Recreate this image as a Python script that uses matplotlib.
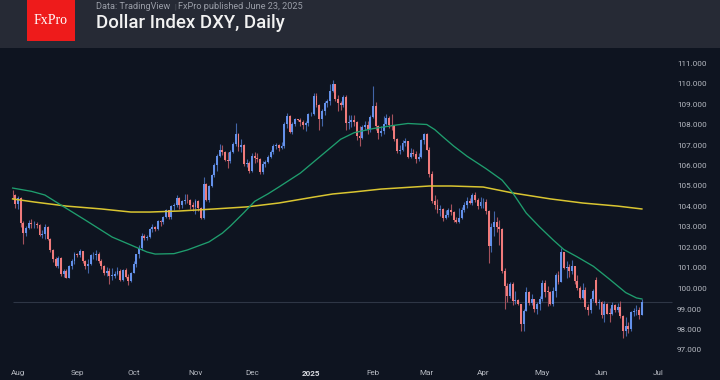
import numpy as np
import pandas as pd
import matplotlib
matplotlib.use("Agg")
import matplotlib.pyplot as plt
from matplotlib.patches import Rectangle

# ---------------- data ----------------
dates = pd.bdate_range("2024-07-30", "2025-06-23")

opens = [
    104.57, 104.55,
    104.10, 104.41, 103.21, 102.70, 102.95, 103.19, 103.14, 103.15, 103.12, 102.62, 102.64, 103.00, 102.40, 101.86, 101.45, 101.10, 101.50, 100.72, 100.86, 100.53, 101.09, 101.35,
    101.70, 101.63, 101.82, 101.36, 101.09, 101.18, 101.63, 101.64, 101.68, 101.36, 101.11, 100.74, 100.87, 100.61, 100.62, 100.72, 100.87, 100.42, 100.90, 100.56, 100.38,
    100.78, 101.20, 101.68, 101.99, 102.54, 102.47, 102.53, 102.90, 102.99, 102.89, 103.29, 103.25, 103.49, 103.83, 103.49, 104.02, 104.08, 104.41, 104.05, 104.26, 104.32, 104.31, 104.05,
    103.99, 104.28, 103.91, 103.42, 105.08, 104.34, 104.99, 105.54, 106.02, 106.48, 106.78, 106.67, 106.27, 106.22, 106.68, 107.06, 107.55, 106.89, 107.01, 106.08, 106.13,
    105.74, 106.48, 106.35, 106.33, 105.70, 106.06, 106.16, 106.41, 106.68, 106.97, 107.00, 106.85, 106.95, 108.03, 108.40, 107.62, 108.04, 108.26, 108.20, 108.13, 107.98, 108.06,
    108.49, 108.50, 109.39, 108.95, 108.26, 108.68, 109.05, 109.16, 109.65, 109.96, 109.25, 109.06, 108.96, 109.35, 108.06, 108.11, 108.24, 108.12, 107.45, 107.35, 107.86, 107.97, 107.80,
    108.37, 108.92, 107.91, 107.60, 107.69, 108.04, 108.32, 107.96, 107.93, 107.29, 106.71, 106.77, 107.09, 107.19, 106.41, 106.61, 106.56, 106.30, 106.41, 107.24,
    107.56, 106.76, 105.58, 104.29, 104.08, 103.84, 103.90, 103.46, 103.59, 103.83, 103.72, 103.35, 103.26, 103.43, 103.85, 104.09, 104.26, 104.19, 104.56, 104.31, 104.04,
    104.21, 104.24, 103.80, 102.07, 103.02, 103.26, 102.98, 102.89, 100.86, 100.10, 99.63, 100.22, 99.38, 99.42, 99.23, 98.28, 98.92, 99.84, 99.29, 99.47, 98.99, 99.24,
    99.47, 100.25, 99.84, 99.83, 99.24, 99.88, 100.64, 100.34, 101.79, 101.00, 101.04, 100.84, 101.09, 100.37, 100.03, 99.54, 99.93, 99.10, 98.94, 99.49, 100.40, 99.27,
    99.33, 98.71, 99.24, 98.78, 98.76, 99.19, 98.96, 99.09, 98.64, 97.92, 98.18, 98.02, 98.86, 98.90, 98.93, 98.71,
]
highs = [
    104.80, 104.60,
    104.50, 104.45, 103.30, 103.05, 103.35, 103.40, 103.30, 103.25, 103.15, 102.85, 103.15, 103.05, 102.45, 101.95, 101.55, 101.60, 101.55, 100.95, 100.95, 101.15, 101.45, 101.80,
    101.75, 101.95, 101.85, 101.40, 101.45, 101.70, 101.80, 101.90, 101.80, 101.45, 101.15, 101.05, 101.00, 101.00, 100.85, 101.05, 100.95, 100.95, 101.00, 100.70, 100.80,
    101.35, 101.70, 102.10, 102.70, 102.65, 102.60, 102.95, 103.15, 103.05, 103.35, 103.35, 103.55, 103.87, 103.85, 104.05, 104.15, 104.55, 104.45, 104.30, 104.60, 104.63, 104.35, 104.20,
    104.35, 104.30, 104.00, 105.44, 105.15, 105.05, 105.60, 106.10, 106.55, 107.07, 107.00, 106.70, 106.65, 106.75, 107.15, 108.07, 107.60, 107.30, 107.05, 106.30, 106.20,
    106.60, 106.65, 106.60, 106.35, 106.20, 106.25, 106.50, 106.75, 107.05, 107.10, 107.05, 107.15, 108.10, 108.54, 108.45, 108.10, 108.30, 108.28, 108.30, 108.20, 108.15, 108.55,
    108.60, 109.55, 109.53, 109.00, 108.75, 109.15, 109.25, 109.97, 110.17, 110.00, 109.45, 109.15, 109.45, 109.45, 108.45, 108.45, 108.45, 108.15, 107.95, 108.00, 108.15, 108.15, 108.45,
    109.88, 109.10, 108.00, 107.95, 108.40, 108.50, 108.40, 108.50, 108.00, 107.35, 107.00, 107.25, 107.35, 107.20, 106.85, 106.80, 106.70, 106.60, 107.30, 107.60,
    107.58, 106.90, 105.75, 104.55, 104.35, 104.05, 103.95, 103.85, 103.95, 104.10, 103.80, 103.50, 103.95, 104.00, 104.20, 104.45, 104.40, 104.68, 104.70, 104.40, 104.45,
    104.40, 104.35, 103.85, 103.20, 103.80, 103.50, 103.35, 102.95, 101.00, 100.25, 100.30, 100.30, 99.90, 99.50, 99.25, 99.00, 100.05, 99.90, 99.75, 99.50, 99.35, 99.65,
    100.40, 100.40, 100.10, 99.90, 100.05, 100.75, 100.85, 101.98, 101.80, 101.35, 101.20, 101.40, 101.10, 100.65, 100.10, 100.25, 100.05, 99.25, 99.55, 100.00, 100.55, 99.50,
    99.40, 99.40, 99.30, 99.05, 99.35, 99.25, 99.30, 99.40, 98.70, 98.60, 98.35, 98.90, 99.05, 99.20, 99.10, 99.50,
]
lows = [
    104.35, 103.95,
    103.90, 103.00, 102.16, 102.55, 102.90, 102.95, 102.95, 102.95, 102.55, 102.45, 102.40, 102.35, 101.80, 101.30, 101.05, 101.00, 100.60, 100.55, 100.50, 100.50, 100.95, 101.20,
    101.55, 101.55, 101.25, 100.95, 100.75, 101.15, 101.45, 101.40, 101.25, 100.95, 100.65, 100.60, 100.20, 100.40, 100.50, 100.65, 100.35, 100.35, 100.50, 100.16, 100.30,
    100.75, 101.05, 101.50, 101.90, 102.35, 102.35, 102.45, 102.75, 102.80, 102.85, 103.05, 103.15, 103.45, 103.40, 103.40, 103.85, 104.00, 103.90, 103.95, 104.10, 104.15, 103.90, 103.80,
    103.65, 103.80, 103.37, 103.40, 104.28, 104.20, 104.95, 105.45, 105.75, 106.40, 106.50, 106.20, 105.90, 106.10, 106.60, 106.95, 106.70, 106.65, 106.00, 105.95, 105.64,
    105.70, 106.10, 106.15, 105.60, 105.60, 105.95, 106.10, 106.35, 106.55, 106.80, 106.70, 106.80, 106.85, 107.85, 107.60, 107.55, 107.95, 108.15, 107.95, 107.80, 107.70, 107.95,
    108.40, 108.45, 108.85, 107.75, 107.95, 108.45, 108.85, 108.95, 109.60, 109.15, 108.65, 108.70, 108.85, 107.75, 107.80, 107.90, 107.95, 107.25, 106.95, 107.30, 107.75, 107.55, 107.65,
    108.30, 107.75, 107.30, 107.45, 107.55, 108.00, 107.85, 107.75, 107.20, 106.60, 106.55, 106.70, 106.95, 106.35, 106.35, 106.45, 106.10, 106.20, 106.35, 107.05,
    106.75, 105.45, 104.15, 103.90, 103.70, 103.55, 103.30, 103.40, 103.50, 103.60, 103.25, 103.20, 103.20, 103.40, 103.75, 103.95, 104.10, 104.05, 104.20, 103.90, 103.95,
    103.95, 103.65, 101.25, 101.80, 102.55, 102.75, 102.10, 100.75, 99.01, 99.35, 99.55, 99.20, 99.25, 99.20, 97.92, 97.95, 98.90, 99.20, 99.20, 98.85, 98.75, 98.95,
    99.40, 99.60, 99.15, 99.20, 99.15, 99.60, 100.20, 100.30, 100.95, 100.50, 100.55, 100.70, 100.20, 99.95, 99.50, 99.50, 99.00, 98.70, 98.80, 99.40, 99.20, 99.00,
    98.58, 98.35, 98.75, 98.35, 98.70, 98.85, 98.85, 98.55, 97.60, 97.70, 97.85, 97.95, 98.65, 98.70, 98.50, 98.70,
]
closes = [
    104.55, 104.10,
    104.41, 103.21, 102.70, 102.95, 103.19, 103.14, 103.15, 103.12, 102.62, 102.64, 103.00, 102.40, 101.86, 101.45, 101.10, 101.50, 100.72, 100.86, 100.53, 101.09, 101.35, 101.70,
    101.63, 101.82, 101.36, 101.09, 101.18, 101.63, 101.64, 101.68, 101.36, 101.11, 100.74, 100.87, 100.61, 100.62, 100.72, 100.87, 100.42, 100.90, 100.56, 100.38, 100.78,
    101.20, 101.68, 101.99, 102.54, 102.47, 102.53, 102.90, 102.99, 102.89, 103.29, 103.25, 103.49, 103.83, 103.49, 104.02, 104.08, 104.41, 104.05, 104.26, 104.32, 104.31, 104.05, 103.99,
    104.28, 103.91, 103.42, 105.08, 104.34, 104.99, 105.54, 106.02, 106.48, 106.78, 106.67, 106.27, 106.22, 106.68, 107.06, 107.55, 106.89, 107.01, 106.08, 106.13, 105.74,
    106.48, 106.35, 106.33, 105.70, 106.06, 106.16, 106.41, 106.68, 106.97, 107.00, 106.85, 106.95, 108.03, 108.40, 107.62, 108.04, 108.26, 108.20, 108.13, 107.98, 108.06, 108.49,
    108.50, 109.39, 108.95, 108.26, 108.68, 109.05, 109.16, 109.65, 109.96, 109.25, 109.06, 108.96, 109.35, 108.06, 108.11, 108.24, 108.12, 107.45, 107.35, 107.86, 107.97, 107.80, 108.37,
    108.92, 107.91, 107.60, 107.69, 108.04, 108.32, 107.96, 107.93, 107.29, 106.71, 106.77, 107.09, 107.19, 106.41, 106.61, 106.56, 106.30, 106.41, 107.24, 107.56,
    106.76, 105.58, 104.29, 104.08, 103.84, 103.90, 103.46, 103.59, 103.83, 103.72, 103.35, 103.26, 103.43, 103.85, 104.09, 104.26, 104.19, 104.56, 104.31, 104.04, 104.21,
    104.24, 103.80, 102.07, 103.02, 103.26, 102.98, 102.89, 100.86, 100.10, 99.63, 100.22, 99.38, 99.42, 99.23, 98.28, 98.92, 99.84, 99.29, 99.47, 98.99, 99.24, 99.47,
    100.25, 99.84, 99.83, 99.24, 99.88, 100.64, 100.34, 101.79, 101.00, 101.04, 100.84, 101.09, 100.37, 100.03, 99.54, 99.93, 99.10, 98.94, 99.49, 99.88, 99.27, 99.33,
    98.71, 99.24, 98.78, 98.76, 99.19, 98.96, 99.09, 98.64, 97.92, 98.18, 98.02, 98.86, 98.90, 98.93, 98.71, 99.34,
]

# 50-day moving average (green)
ma50_dates = ["2024-07-30", "2024-08-08", "2024-08-15", "2024-08-23", "2024-09-05", "2024-09-19", "2024-09-30",
              "2024-10-08", "2024-10-11", "2024-10-22", "2024-10-29", "2024-11-08", "2024-11-15",
              "2024-11-20", "2024-11-27", "2024-12-03", "2024-12-10", "2024-12-16", "2024-12-26", "2025-01-08",
              "2025-01-16", "2025-01-23", "2025-02-03", "2025-02-14", "2025-02-20", "2025-03-03", "2025-03-06",
              "2025-03-11", "2025-03-17", "2025-03-24", "2025-04-02", "2025-04-10", "2025-04-16", "2025-04-23",
              "2025-04-30", "2025-05-07", "2025-05-13", "2025-05-20", "2025-05-28", "2025-06-05", "2025-06-13",
              "2025-06-19", "2025-06-23"]
ma50_vals = [104.90, 104.74, 104.56, 104.07, 103.34, 102.51, 102.12, 101.78, 101.68, 101.70, 101.88,
             102.27, 102.70, 103.05, 103.70, 104.25, 104.62, 104.95, 105.63, 106.62, 107.28, 107.60,
             107.80, 107.98, 108.05, 108.00, 107.75, 107.40, 106.95, 106.45, 105.85, 105.29, 104.66,
             103.68, 103.00, 102.37, 101.90, 101.54, 101.08, 100.45, 99.80, 99.54, 99.49]

# 200-day moving average (yellow)
ma200_dates = ["2024-07-30", "2024-08-09", "2024-08-27", "2024-09-13", "2024-09-30", "2024-10-09",
               "2024-10-24", "2024-11-12", "2024-11-28", "2024-12-16", "2025-01-02", "2025-01-13",
               "2025-01-23", "2025-02-06", "2025-02-14", "2025-03-04", "2025-03-14", "2025-04-01",
               "2025-04-16", "2025-05-06", "2025-05-22", "2025-06-10", "2025-06-23"]
ma200_vals = [104.37, 104.22, 104.02, 103.88, 103.73, 103.73, 103.78, 103.88, 103.98, 104.17,
              104.46, 104.61, 104.71, 104.85, 104.90, 105.00, 105.00, 104.95, 104.66, 104.37,
              104.17, 104.02, 103.88]

month_tick_dates = ["2024-08-01", "2024-09-02", "2024-10-01", "2024-11-01", "2024-12-02", "2025-01-01",
                    "2025-02-03", "2025-03-03", "2025-04-01", "2025-05-01", "2025-06-02", "2025-07-01"]
month_labels = ["Aug", "Sep", "Oct", "Nov", "Dec", "2025", "Feb", "Mar", "Apr", "May", "Jun", "Jul"]
price_ticks = [97, 98, 99, 100, 101, 102, 103, 104, 105, 106, 107, 108, 109, 110, 111]

# ---------------- drawing ----------------
O = np.array(opens); H = np.array(highs); L = np.array(lows); C = np.array(closes)
n = len(dates)
assert len(O) == len(H) == len(L) == len(C) == n, (len(O), len(H), len(L), len(C), n)
assert len(ma50_dates) == len(ma50_vals) and len(ma200_dates) == len(ma200_vals)

full_days = pd.bdate_range("2024-07-30", "2025-07-31")
pos_of = {d.strftime("%Y-%m-%d"): i for i, d in enumerate(full_days)}
xpos = np.arange(n)

BG = "#0e1420"
W, Hh = 720, 380
fig = plt.figure(figsize=(7.2, 3.8), dpi=100)
fig.patch.set_facecolor(BG)

HEADER = 48
ax = fig.add_axes([0, 0, 1, (Hh - HEADER) / Hh])
ax.set_facecolor(BG)

# pixel calibration: x_px = 18 + 2.689*(i-2); price 111 at y=63 px, 20.5 px per point
px_per_bar = 2.689
def px_to_i(px):
    return (px - 18) / px_per_bar + 2
ax.set_xlim(px_to_i(0), px_to_i(W))
ax.set_ylim(111 - (Hh - 63) / 20.5, 111 + (63 - HEADER) / 20.5)

up = C >= O
UP_C = "#6491ea"
DN_C = "#f07b7b"
body_cols = np.where(up, UP_C, DN_C)
wick_cols = np.where(up, "#4265a8", "#a5525d")

ax.vlines(xpos, L, H, colors=wick_cols, linewidth=0.8, zorder=2)
heights = np.maximum(np.abs(C - O), 0.025)
ax.bar(xpos, heights, bottom=np.minimum(O, C), width=0.72, color=body_cols, linewidth=0, zorder=3)

ma50_x = [pos_of[d] for d in ma50_dates]
ma200_x = [pos_of[d] for d in ma200_dates]
ax.plot(ma200_x, ma200_vals, color="#d9c531", linewidth=1.1, zorder=4, solid_joinstyle="round")
ax.plot(ma50_x, ma50_vals, color="#1f9e6e", linewidth=0.95, zorder=4, solid_joinstyle="round")

# last price line
ax.hlines(C[-1], xpos[0], px_to_i(672), color="#2e3645", linewidth=0.8, zorder=1)

for s in ax.spines.values():
    s.set_visible(False)

ax.yaxis.tick_right()
ax.set_yticks(price_ticks)
ax.set_yticklabels([f"{v:.3f}" for v in price_ticks])
ax.tick_params(axis="y", length=0, pad=-31, labelsize=5.9, labelcolor="#b4b8c0")
for t in ax.get_yticklabels():
    t.set_fontfamily("Roboto")

ax.set_xticks([pos_of[d] for d in month_tick_dates])
ax.set_xticklabels(month_labels)
ax.tick_params(axis="x", length=0, pad=-7.2, labelsize=5.9, labelcolor="#b4b8c0")
for t in ax.get_xticklabels():
    t.set_fontfamily("Roboto")
    if t.get_text() == "2025":
        t.set_fontweight("bold")
        t.set_color("#d8dae0")

# header band
fig.patches.append(Rectangle((0, (Hh - HEADER) / Hh), 1, HEADER / Hh, transform=fig.transFigure,
                             facecolor="#262a35", edgecolor="none", zorder=0))
fig.patches.append(Rectangle((27 / W, (Hh - 41) / Hh), 48 / W, 41 / Hh, transform=fig.transFigure,
                             facecolor="#ee1b1b", edgecolor="none", zorder=1))
fig.text(51 / W, 1 - 23.5 / Hh, "FxPro", ha="center", va="baseline", family="Liberation Serif",
         fontsize=10, color="white", zorder=2)
fig.text(96 / W, 1 - 9 / Hh, "Data: TradingView", va="baseline", family="Roboto",
         fontsize=6.6, color="#9a9ea8")
fig.text(174 / W, 1 - 9 / Hh, "|", va="baseline", family="Roboto", fontsize=5.0, color="#5c606a")
fig.text(178 / W, 1 - 9 / Hh, "FxPro published June 23, 2025", va="baseline", family="Roboto",
         fontsize=6.6, color="#9a9ea8")
fig.text(96 / W, 1 - 28.5 / Hh, "Dollar Index DXY, Daily", va="baseline", family="Roboto",
         fontsize=13.4, fontweight="medium", color="#f2f2f2")

fig.savefig("out.png", dpi=100, facecolor=BG)
